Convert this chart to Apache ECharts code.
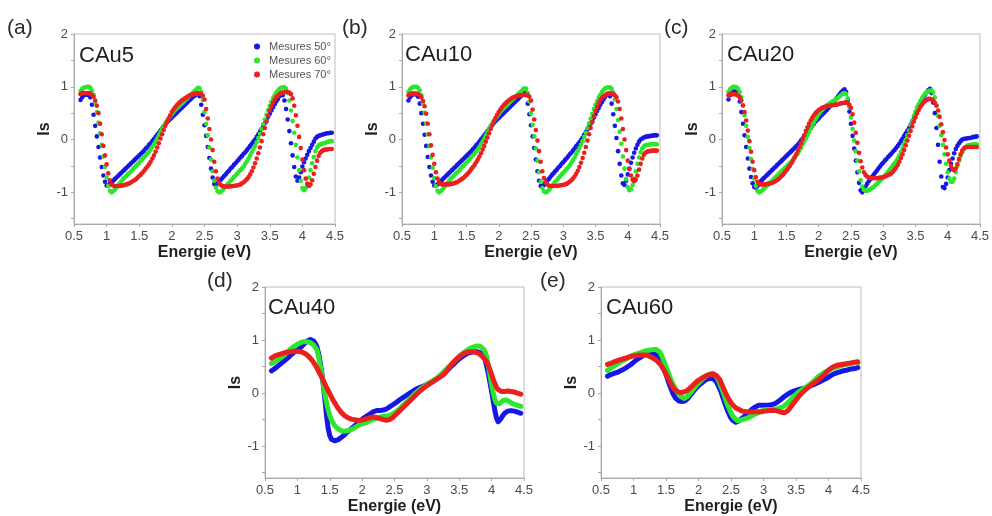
<!DOCTYPE html>
<html><head><meta charset="utf-8">
<script src="https://cdn.jsdelivr.net/npm/echarts@6/dist/echarts.min.js"></script>
<style>html,body{margin:0;padding:0;background:#fff}#c{width:992px;height:516px}</style>
</head><body><div id="c"></div>
<script>
// Energy grid (eV), shared by all panels
const E = [0.6,0.625,0.65,0.675,0.7,0.725,0.75,0.775,0.8,0.825,0.85,0.875,0.9,0.925,0.95,0.975,1,1.025,1.05,1.075,
1.1,1.125,1.15,1.175,1.2,1.225,1.25,1.275,1.3,1.325,1.35,1.375,1.4,1.425,1.45,1.475,1.5,1.525,1.55,1.575,
1.6,1.625,1.65,1.675,1.7,1.725,1.75,1.775,1.8,1.825,1.85,1.875,1.9,1.925,1.95,1.975,2,2.025,2.05,2.075,
2.1,2.125,2.15,2.175,2.2,2.225,2.25,2.275,2.3,2.325,2.35,2.375,2.4,2.425,2.45,2.475,2.5,2.525,2.55,2.575,
2.6,2.625,2.65,2.675,2.7,2.725,2.75,2.775,2.8,2.825,2.85,2.875,2.9,2.925,2.95,2.975,3,3.025,3.05,3.075,
3.1,3.125,3.15,3.175,3.2,3.225,3.25,3.275,3.3,3.325,3.35,3.375,3.4,3.425,3.45,3.475,3.5,3.525,3.55,3.575,
3.6,3.625,3.65,3.675,3.7,3.725,3.75,3.775,3.8,3.825,3.85,3.875,3.9,3.925,3.95,3.975,4,4.025,4.05,4.075,
4.1,4.125,4.15,4.175,4.2,4.225,4.25,4.275,4.3,4.325,4.35,4.375,4.4,4.425,4.45];

const xTicks = [0.5,1,1.5,2,2.5,3,3.5,4,4.5];
const yLabels = [-1,0,1,2];
const yTicks = [-1.5,-1,-0.5,0,0.5,1,1.5,2];
const seriesNames = ['Mesures 50°','Mesures 60°','Mesures 70°'];
const panelLetters = ['(a)','(b)','(c)','(d)','(e)'];
const sampleNames = ['CAu5','CAu10','CAu20','CAu40','CAu60'];

// (a) CAu5
const a50 = [0.75,0.80,0.84,0.85,0.85,0.84,0.80,0.66,0.47,0.26,0.06,-0.14,-0.34,-0.52,-0.68,-0.80,-0.87,-0.87,-0.84,-0.81,
-0.78,-0.75,-0.72,-0.69,-0.66,-0.63,-0.60,-0.57,-0.54,-0.51,-0.48,-0.45,-0.42,-0.39,-0.36,-0.33,-0.30,-0.27,-0.24,-0.21,
-0.17,-0.14,-0.10,-0.07,-0.03,0.01,0.05,0.09,0.13,0.17,0.21,0.25,0.29,0.33,0.36,0.39,0.42,0.45,0.48,0.51,
0.54,0.57,0.60,0.63,0.66,0.69,0.72,0.75,0.78,0.81,0.83,0.86,0.88,0.82,0.66,0.47,0.27,0.07,-0.14,-0.35,
-0.55,-0.72,-0.84,-0.87,-0.83,-0.80,-0.76,-0.73,-0.69,-0.66,-0.62,-0.59,-0.55,-0.52,-0.48,-0.45,-0.41,-0.38,-0.34,-0.31,
-0.27,-0.24,-0.20,-0.16,-0.12,-0.08,-0.04,0.00,0.05,0.10,0.15,0.20,0.25,0.31,0.37,0.43,0.49,0.55,0.61,0.67,
0.72,0.77,0.82,0.85,0.84,0.74,0.58,0.38,0.16,-0.07,-0.30,-0.52,-0.70,-0.78,-0.72,-0.62,-0.51,-0.43,-0.36,-0.29,
-0.22,-0.16,-0.10,-0.04,0.02,0.05,0.07,0.08,0.09,0.10,0.11,0.12,0.12,0.13,0.13];
const a60 = [0.92,0.96,0.98,0.99,1.00,1.00,0.98,0.93,0.85,0.70,0.52,0.32,0.12,-0.10,-0.32,-0.52,-0.72,-0.88,-0.97,-1.00,
-0.98,-0.95,-0.91,-0.87,-0.83,-0.79,-0.75,-0.72,-0.69,-0.66,-0.63,-0.60,-0.57,-0.53,-0.50,-0.47,-0.44,-0.40,-0.37,-0.33,
-0.30,-0.27,-0.23,-0.19,-0.14,-0.09,-0.04,0.02,0.08,0.14,0.20,0.26,0.31,0.36,0.40,0.44,0.48,0.52,0.56,0.59,
0.62,0.65,0.68,0.71,0.74,0.77,0.80,0.83,0.86,0.89,0.92,0.95,0.98,0.97,0.90,0.75,0.52,0.30,0.08,-0.15,
-0.38,-0.60,-0.78,-0.91,-0.98,-1.00,-0.99,-0.96,-0.92,-0.89,-0.85,-0.82,-0.78,-0.75,-0.71,-0.68,-0.65,-0.61,-0.58,-0.55,
-0.51,-0.46,-0.41,-0.36,-0.30,-0.24,-0.18,-0.12,-0.05,0.03,0.11,0.20,0.29,0.38,0.47,0.56,0.64,0.71,0.78,0.84,
0.89,0.93,0.96,0.98,0.99,0.99,0.96,0.88,0.74,0.55,0.35,0.13,-0.10,-0.34,-0.58,-0.78,-0.92,-0.96,-0.92,-0.84,
-0.72,-0.58,-0.45,-0.33,-0.22,-0.15,-0.11,-0.09,-0.08,-0.07,-0.06,-0.05,-0.04,-0.03,-0.03];
const a70 = [0.86,0.88,0.88,0.88,0.88,0.88,0.87,0.85,0.81,0.74,0.64,0.50,0.30,0.10,-0.12,-0.30,-0.47,-0.64,-0.77,-0.85,
-0.87,-0.88,-0.88,-0.88,-0.88,-0.87,-0.87,-0.86,-0.85,-0.84,-0.83,-0.81,-0.79,-0.77,-0.75,-0.72,-0.69,-0.66,-0.63,-0.59,
-0.55,-0.51,-0.47,-0.42,-0.36,-0.30,-0.23,-0.15,-0.07,0.02,0.10,0.18,0.26,0.33,0.40,0.46,0.52,0.57,0.61,0.65,
0.68,0.71,0.74,0.76,0.78,0.80,0.82,0.84,0.85,0.86,0.87,0.87,0.87,0.87,0.86,0.83,0.76,0.58,0.40,0.20,
0.00,-0.20,-0.42,-0.60,-0.74,-0.82,-0.86,-0.88,-0.89,-0.89,-0.89,-0.89,-0.89,-0.88,-0.88,-0.87,-0.87,-0.86,-0.85,-0.83,
-0.81,-0.78,-0.75,-0.71,-0.66,-0.60,-0.53,-0.45,-0.36,-0.26,-0.15,-0.03,0.10,0.22,0.34,0.45,0.55,0.63,0.70,0.76,
0.80,0.83,0.86,0.88,0.89,0.90,0.90,0.90,0.89,0.86,0.78,0.64,0.46,0.26,0.05,-0.16,-0.38,-0.58,-0.74,-0.84,
-0.88,-0.85,-0.77,-0.65,-0.52,-0.40,-0.31,-0.25,-0.22,-0.20,-0.19,-0.19,-0.18,-0.18,-0.18];

// (b) CAu10
const b50 = [0.74,0.80,0.84,0.86,0.86,0.85,0.81,0.68,0.50,0.30,0.09,-0.12,-0.33,-0.52,-0.68,-0.80,-0.87,-0.88,-0.85,-0.82,
-0.79,-0.76,-0.73,-0.70,-0.67,-0.64,-0.61,-0.58,-0.55,-0.52,-0.49,-0.46,-0.43,-0.40,-0.37,-0.34,-0.31,-0.28,-0.25,-0.22,
-0.18,-0.15,-0.11,-0.08,-0.04,0.00,0.04,0.08,0.12,0.16,0.20,0.24,0.28,0.32,0.35,0.38,0.41,0.44,0.47,0.50,
0.53,0.56,0.59,0.62,0.65,0.68,0.71,0.74,0.77,0.80,0.83,0.86,0.89,0.84,0.68,0.48,0.27,0.06,-0.16,-0.38,
-0.60,-0.78,-0.88,-0.90,-0.86,-0.82,-0.78,-0.75,-0.71,-0.67,-0.64,-0.60,-0.57,-0.53,-0.50,-0.46,-0.43,-0.39,-0.36,-0.32,
-0.28,-0.25,-0.21,-0.17,-0.13,-0.09,-0.05,-0.01,0.04,0.09,0.14,0.19,0.24,0.30,0.36,0.42,0.48,0.54,0.60,0.66,
0.71,0.76,0.81,0.85,0.87,0.82,0.68,0.48,0.26,0.03,-0.22,-0.46,-0.68,-0.83,-0.86,-0.78,-0.66,-0.55,-0.44,-0.34,
-0.25,-0.17,-0.10,-0.04,0.00,0.02,0.04,0.05,0.06,0.06,0.07,0.07,0.08,0.08,0.08];
const b60 = [0.90,0.95,0.98,1.00,1.00,1.00,0.98,0.93,0.84,0.69,0.51,0.31,0.10,-0.12,-0.34,-0.54,-0.73,-0.88,-0.97,-1.00,
-0.98,-0.95,-0.91,-0.87,-0.83,-0.79,-0.75,-0.72,-0.69,-0.66,-0.63,-0.60,-0.57,-0.53,-0.50,-0.47,-0.44,-0.40,-0.37,-0.33,
-0.30,-0.27,-0.23,-0.19,-0.14,-0.09,-0.04,0.02,0.08,0.14,0.20,0.26,0.31,0.36,0.40,0.44,0.48,0.52,0.56,0.59,
0.62,0.65,0.68,0.71,0.74,0.77,0.80,0.83,0.86,0.89,0.92,0.95,0.97,0.96,0.88,0.72,0.50,0.28,0.06,-0.17,
-0.40,-0.62,-0.80,-0.92,-0.98,-1.00,-0.99,-0.96,-0.92,-0.88,-0.84,-0.80,-0.77,-0.73,-0.70,-0.66,-0.63,-0.60,-0.56,-0.53,
-0.49,-0.44,-0.39,-0.34,-0.28,-0.22,-0.16,-0.10,-0.03,0.05,0.13,0.22,0.31,0.40,0.49,0.58,0.66,0.73,0.80,0.85,
0.90,0.94,0.97,0.98,0.99,0.99,0.96,0.89,0.76,0.58,0.37,0.15,-0.08,-0.32,-0.55,-0.75,-0.90,-0.96,-0.94,-0.86,
-0.74,-0.60,-0.46,-0.34,-0.24,-0.17,-0.13,-0.11,-0.10,-0.10,-0.09,-0.09,-0.09,-0.09,-0.09];
const b70 = [0.84,0.86,0.87,0.87,0.87,0.87,0.86,0.84,0.80,0.73,0.63,0.49,0.30,0.10,-0.11,-0.29,-0.46,-0.62,-0.74,-0.81,
-0.84,-0.85,-0.85,-0.85,-0.85,-0.85,-0.84,-0.84,-0.83,-0.82,-0.81,-0.79,-0.77,-0.75,-0.73,-0.70,-0.67,-0.64,-0.60,-0.56,
-0.52,-0.48,-0.43,-0.38,-0.32,-0.26,-0.19,-0.12,-0.04,0.04,0.12,0.20,0.27,0.34,0.41,0.47,0.52,0.57,0.61,0.65,
0.68,0.71,0.74,0.76,0.78,0.80,0.81,0.82,0.83,0.84,0.84,0.85,0.85,0.85,0.84,0.81,0.74,0.57,0.38,0.18,
-0.02,-0.22,-0.42,-0.60,-0.73,-0.81,-0.85,-0.87,-0.88,-0.88,-0.88,-0.88,-0.88,-0.87,-0.87,-0.86,-0.86,-0.85,-0.84,-0.82,
-0.80,-0.77,-0.74,-0.70,-0.65,-0.59,-0.52,-0.44,-0.35,-0.25,-0.14,-0.02,0.10,0.22,0.33,0.44,0.54,0.62,0.69,0.75,
0.79,0.82,0.84,0.86,0.87,0.87,0.87,0.86,0.84,0.80,0.72,0.58,0.40,0.20,0.00,-0.20,-0.40,-0.56,-0.68,-0.76,
-0.79,-0.76,-0.68,-0.57,-0.46,-0.36,-0.29,-0.25,-0.23,-0.22,-0.22,-0.21,-0.21,-0.21,-0.21];

// (c) CAu20
const c50 = [0.76,0.84,0.89,0.91,0.91,0.90,0.85,0.72,0.52,0.30,0.08,-0.14,-0.36,-0.55,-0.71,-0.83,-0.90,-0.91,-0.88,-0.84,
-0.79,-0.76,-0.73,-0.70,-0.67,-0.64,-0.61,-0.58,-0.55,-0.52,-0.49,-0.46,-0.43,-0.40,-0.37,-0.34,-0.31,-0.28,-0.25,-0.22,
-0.19,-0.16,-0.13,-0.10,-0.06,-0.02,0.02,0.06,0.10,0.14,0.18,0.22,0.26,0.30,0.34,0.37,0.40,0.44,0.47,0.50,
0.53,0.56,0.60,0.63,0.67,0.70,0.74,0.78,0.82,0.86,0.90,0.93,0.95,0.90,0.74,0.53,0.30,0.07,-0.17,-0.40,
-0.62,-0.82,-0.96,-1.00,-0.95,-0.89,-0.84,-0.79,-0.75,-0.71,-0.67,-0.63,-0.59,-0.55,-0.51,-0.47,-0.44,-0.40,-0.37,-0.33,
-0.30,-0.27,-0.23,-0.20,-0.16,-0.12,-0.08,-0.03,0.02,0.07,0.12,0.17,0.22,0.28,0.34,0.40,0.47,0.53,0.60,0.67,
0.73,0.79,0.85,0.90,0.94,0.96,0.88,0.70,0.50,0.22,-0.10,-0.42,-0.70,-0.90,-0.92,-0.84,-0.72,-0.58,-0.46,-0.36,
-0.26,-0.18,-0.12,-0.07,-0.03,0.00,0.01,0.02,0.02,0.03,0.03,0.04,0.05,0.05,0.06];
const c60 = [0.90,0.95,0.98,1.00,1.00,0.99,0.96,0.90,0.80,0.64,0.46,0.26,0.05,-0.16,-0.37,-0.56,-0.74,-0.88,-0.97,-1.00,
-0.99,-0.96,-0.93,-0.90,-0.87,-0.84,-0.81,-0.78,-0.75,-0.72,-0.69,-0.66,-0.63,-0.60,-0.57,-0.54,-0.51,-0.48,-0.45,-0.42,
-0.38,-0.34,-0.30,-0.26,-0.21,-0.16,-0.10,-0.04,0.02,0.08,0.14,0.20,0.26,0.32,0.38,0.43,0.48,0.52,0.56,0.59,
0.62,0.65,0.67,0.69,0.71,0.73,0.75,0.77,0.79,0.82,0.85,0.87,0.88,0.86,0.78,0.62,0.42,0.20,-0.02,-0.22,
-0.40,-0.60,-0.77,-0.89,-0.95,-0.97,-0.97,-0.96,-0.94,-0.92,-0.90,-0.87,-0.84,-0.81,-0.78,-0.75,-0.72,-0.68,-0.65,-0.61,
-0.57,-0.53,-0.49,-0.45,-0.41,-0.36,-0.30,-0.23,-0.16,-0.09,-0.01,0.08,0.17,0.27,0.36,0.45,0.53,0.61,0.67,0.73,
0.78,0.83,0.87,0.90,0.92,0.93,0.93,0.89,0.80,0.65,0.45,0.26,0.08,-0.10,-0.28,-0.46,-0.62,-0.74,-0.80,-0.80,
-0.74,-0.62,-0.50,-0.40,-0.31,-0.24,-0.18,-0.14,-0.12,-0.11,-0.10,-0.10,-0.09,-0.09,-0.09];
const c70 = [0.84,0.86,0.86,0.86,0.86,0.85,0.83,0.80,0.74,0.65,0.52,0.36,0.17,-0.03,-0.23,-0.42,-0.58,-0.71,-0.80,-0.84,
-0.85,-0.85,-0.85,-0.85,-0.84,-0.84,-0.83,-0.82,-0.81,-0.79,-0.77,-0.75,-0.72,-0.69,-0.66,-0.62,-0.58,-0.54,-0.50,-0.45,
-0.40,-0.34,-0.28,-0.21,-0.14,-0.07,0.00,0.08,0.16,0.23,0.30,0.36,0.41,0.46,0.50,0.53,0.56,0.58,0.60,0.61,
0.62,0.63,0.64,0.64,0.65,0.65,0.66,0.66,0.67,0.68,0.69,0.69,0.70,0.70,0.69,0.66,0.60,0.48,0.32,0.13,
-0.06,-0.25,-0.41,-0.53,-0.62,-0.67,-0.70,-0.72,-0.73,-0.73,-0.73,-0.73,-0.73,-0.73,-0.72,-0.72,-0.71,-0.70,-0.69,-0.67,
-0.66,-0.64,-0.61,-0.57,-0.53,-0.48,-0.42,-0.35,-0.28,-0.20,-0.11,-0.02,0.07,0.16,0.25,0.34,0.42,0.50,0.56,0.62,
0.66,0.70,0.73,0.75,0.77,0.77,0.76,0.74,0.70,0.64,0.55,0.43,0.29,0.14,-0.01,-0.15,-0.28,-0.40,-0.50,-0.56,
-0.58,-0.55,-0.47,-0.37,-0.28,-0.21,-0.17,-0.15,-0.14,-0.14,-0.14,-0.14,-0.14,-0.14,-0.14];

// (d) CAu40
const d50 = [0.42,0.44,0.46,0.49,0.51,0.53,0.56,0.58,0.61,0.63,0.66,0.69,0.72,0.74,0.77,0.79,0.81,0.84,0.86,0.89,
0.92,0.95,0.98,1.00,1.01,1.00,0.98,0.94,0.88,0.76,0.60,0.40,0.16,-0.12,-0.42,-0.66,-0.80,-0.87,-0.90,-0.90,
-0.89,-0.88,-0.86,-0.84,-0.82,-0.79,-0.76,-0.73,-0.71,-0.68,-0.65,-0.63,-0.60,-0.57,-0.55,-0.52,-0.50,-0.47,-0.45,-0.43,
-0.41,-0.39,-0.37,-0.35,-0.34,-0.33,-0.33,-0.33,-0.33,-0.32,-0.31,-0.30,-0.28,-0.26,-0.24,-0.22,-0.20,-0.18,-0.15,-0.13,
-0.11,-0.09,-0.07,-0.05,-0.03,-0.01,0.01,0.03,0.05,0.07,0.08,0.10,0.11,0.12,0.14,0.15,0.16,0.18,0.19,0.21,
0.23,0.25,0.27,0.29,0.31,0.33,0.36,0.38,0.41,0.44,0.47,0.50,0.53,0.56,0.59,0.62,0.65,0.67,0.69,0.71,
0.73,0.75,0.76,0.77,0.78,0.78,0.78,0.78,0.77,0.76,0.74,0.70,0.63,0.50,0.36,0.20,0.03,-0.15,-0.33,-0.47,
-0.54,-0.52,-0.47,-0.42,-0.38,-0.35,-0.34,-0.33,-0.33,-0.33,-0.34,-0.35,-0.36,-0.37,-0.38];
const d60 = [0.56,0.57,0.59,0.61,0.63,0.65,0.67,0.69,0.72,0.75,0.78,0.81,0.84,0.86,0.88,0.90,0.92,0.94,0.95,0.96,
0.97,0.97,0.97,0.96,0.95,0.93,0.91,0.88,0.82,0.70,0.54,0.36,0.17,-0.02,-0.18,-0.31,-0.42,-0.50,-0.56,-0.61,
-0.64,-0.67,-0.69,-0.71,-0.72,-0.72,-0.72,-0.71,-0.70,-0.69,-0.67,-0.66,-0.64,-0.62,-0.61,-0.59,-0.58,-0.57,-0.56,-0.55,
-0.54,-0.52,-0.51,-0.49,-0.48,-0.47,-0.46,-0.45,-0.44,-0.44,-0.43,-0.43,-0.43,-0.42,-0.41,-0.39,-0.37,-0.35,-0.32,-0.30,
-0.27,-0.24,-0.21,-0.18,-0.15,-0.12,-0.09,-0.06,-0.03,0.00,0.03,0.05,0.08,0.10,0.12,0.14,0.16,0.18,0.20,0.22,
0.24,0.26,0.28,0.30,0.33,0.36,0.39,0.42,0.45,0.48,0.51,0.54,0.57,0.60,0.63,0.66,0.69,0.72,0.75,0.77,
0.79,0.81,0.83,0.85,0.86,0.87,0.88,0.89,0.89,0.88,0.86,0.83,0.78,0.68,0.52,0.34,0.16,0.00,-0.12,-0.19,
-0.21,-0.20,-0.17,-0.14,-0.13,-0.13,-0.14,-0.16,-0.18,-0.20,-0.21,-0.22,-0.23,-0.24,-0.25];
const d70 = [0.66,0.68,0.70,0.71,0.72,0.73,0.74,0.75,0.76,0.77,0.77,0.78,0.78,0.78,0.79,0.79,0.79,0.79,0.78,0.77,
0.76,0.74,0.72,0.69,0.66,0.62,0.58,0.53,0.48,0.42,0.36,0.30,0.24,0.17,0.11,0.05,-0.01,-0.07,-0.13,-0.18,
-0.23,-0.28,-0.32,-0.36,-0.39,-0.42,-0.44,-0.46,-0.48,-0.49,-0.50,-0.50,-0.51,-0.51,-0.51,-0.51,-0.51,-0.50,-0.49,-0.48,
-0.47,-0.46,-0.45,-0.45,-0.45,-0.46,-0.47,-0.48,-0.49,-0.50,-0.51,-0.51,-0.51,-0.50,-0.48,-0.46,-0.43,-0.40,-0.37,-0.34,
-0.31,-0.28,-0.25,-0.22,-0.19,-0.16,-0.13,-0.10,-0.07,-0.04,-0.01,0.02,0.05,0.07,0.10,0.12,0.14,0.16,0.18,0.20,
0.22,0.24,0.26,0.28,0.30,0.32,0.34,0.37,0.41,0.45,0.49,0.53,0.57,0.60,0.63,0.66,0.69,0.71,0.73,0.75,
0.76,0.77,0.78,0.78,0.78,0.78,0.77,0.76,0.75,0.73,0.70,0.67,0.63,0.58,0.52,0.44,0.35,0.26,0.18,0.11,
0.07,0.04,0.03,0.03,0.03,0.04,0.04,0.04,0.03,0.03,0.02,0.01,0.00,-0.01,-0.02];

// (e) CAu60
const e50 = [0.32,0.33,0.35,0.36,0.37,0.38,0.39,0.40,0.42,0.43,0.45,0.47,0.49,0.51,0.53,0.55,0.58,0.60,0.63,0.65,
0.67,0.69,0.71,0.73,0.74,0.75,0.75,0.75,0.75,0.74,0.72,0.69,0.64,0.58,0.51,0.43,0.35,0.26,0.17,0.09,
0.01,-0.05,-0.10,-0.13,-0.15,-0.16,-0.16,-0.15,-0.14,-0.11,-0.08,-0.04,0.00,0.04,0.08,0.11,0.14,0.17,0.19,0.22,
0.24,0.26,0.27,0.28,0.28,0.27,0.25,0.21,0.15,0.08,0.01,-0.08,-0.17,-0.26,-0.34,-0.41,-0.47,-0.51,-0.54,-0.55,
-0.54,-0.52,-0.50,-0.47,-0.45,-0.42,-0.39,-0.36,-0.33,-0.30,-0.28,-0.26,-0.24,-0.23,-0.23,-0.23,-0.23,-0.23,-0.23,-0.23,
-0.23,-0.22,-0.21,-0.20,-0.18,-0.16,-0.14,-0.11,-0.08,-0.06,-0.04,-0.02,0.00,0.02,0.03,0.04,0.05,0.06,0.07,0.08,
0.08,0.09,0.10,0.11,0.12,0.14,0.15,0.16,0.18,0.19,0.21,0.22,0.24,0.25,0.27,0.28,0.30,0.32,0.34,0.36,
0.37,0.38,0.39,0.40,0.41,0.42,0.43,0.43,0.44,0.45,0.45,0.46,0.47,0.47,0.48];
const e60 = [0.43,0.45,0.47,0.49,0.51,0.53,0.55,0.57,0.59,0.61,0.62,0.64,0.65,0.67,0.69,0.70,0.72,0.73,0.74,0.75,
0.76,0.77,0.78,0.79,0.80,0.81,0.81,0.82,0.82,0.82,0.82,0.81,0.78,0.73,0.66,0.58,0.50,0.42,0.34,0.26,
0.19,0.13,0.07,0.02,-0.02,-0.06,-0.09,-0.10,-0.09,-0.07,-0.04,0.00,0.04,0.08,0.12,0.16,0.19,0.22,0.25,0.28,
0.31,0.33,0.35,0.36,0.37,0.37,0.35,0.31,0.26,0.19,0.11,0.03,-0.06,-0.15,-0.23,-0.30,-0.37,-0.43,-0.47,-0.50,
-0.52,-0.52,-0.51,-0.50,-0.49,-0.48,-0.47,-0.45,-0.44,-0.42,-0.41,-0.39,-0.38,-0.36,-0.35,-0.33,-0.32,-0.32,-0.31,-0.31,
-0.31,-0.31,-0.31,-0.30,-0.30,-0.29,-0.28,-0.27,-0.26,-0.24,-0.21,-0.18,-0.15,-0.12,-0.08,-0.05,-0.02,0.01,0.03,0.05,
0.07,0.09,0.11,0.13,0.15,0.17,0.20,0.23,0.26,0.29,0.32,0.34,0.36,0.38,0.40,0.42,0.43,0.45,0.46,0.47,
0.48,0.49,0.50,0.51,0.52,0.53,0.54,0.54,0.55,0.55,0.56,0.56,0.57,0.57,0.57];
const e70 = [0.54,0.55,0.56,0.58,0.59,0.60,0.61,0.62,0.63,0.64,0.65,0.66,0.67,0.68,0.69,0.70,0.70,0.71,0.71,0.72,
0.72,0.72,0.72,0.72,0.72,0.71,0.69,0.68,0.66,0.64,0.62,0.59,0.56,0.52,0.47,0.42,0.36,0.30,0.24,0.18,
0.12,0.08,0.05,0.03,0.02,0.01,0.01,0.02,0.03,0.05,0.07,0.10,0.13,0.16,0.19,0.22,0.24,0.26,0.28,0.30,
0.31,0.33,0.34,0.35,0.36,0.36,0.35,0.33,0.31,0.26,0.19,0.12,0.05,-0.02,-0.08,-0.13,-0.18,-0.22,-0.25,-0.28,
-0.29,-0.31,-0.33,-0.34,-0.35,-0.35,-0.35,-0.35,-0.35,-0.35,-0.35,-0.35,-0.35,-0.35,-0.35,-0.35,-0.34,-0.34,-0.33,-0.33,
-0.33,-0.33,-0.33,-0.33,-0.33,-0.34,-0.35,-0.36,-0.37,-0.37,-0.36,-0.33,-0.29,-0.25,-0.21,-0.17,-0.13,-0.09,-0.05,-0.02,
0.01,0.04,0.07,0.10,0.12,0.15,0.17,0.19,0.21,0.23,0.26,0.28,0.31,0.34,0.37,0.40,0.43,0.46,0.48,0.50,
0.51,0.52,0.53,0.54,0.54,0.55,0.55,0.56,0.56,0.57,0.57,0.58,0.58,0.59,0.59];

const panelData = [[a50,a60,a70],[b50,b60,b70],[c50,c60,c70],[d50,d60,d70],[e50,e60,e70]];
const colors = ['#1616e6','#2be62b','#ec1f1f'];
const FONT = "'Liberation Sans', Arial, sans-serif";

const grids = [
  {left:74, top:34, width:261, height:190},
  {left:402, top:34, width:258, height:190},
  {left:722, top:34, width:259, height:190},
  {left:265, top:287, width:259, height:191},
  {left:601, top:287, width:260, height:191}
];
const letterPos = [[7,18],[342,18],[664,18],[207,271],[540,271]];
const namePos = [[79,45],[405,44],[727,44],[268,297],[606,297]];

const axisGray = '#a9a9a9';
const option = {
  animation:false,
  backgroundColor:'#fff',
  textStyle:{fontFamily:FONT},
  grid: grids.map(g => Object.assign({show:true, borderColor:'#bdbdbd', borderWidth:1, containLabel:false}, g)),
  xAxis: grids.map((g,i) => ({
    gridIndex:i, type:'value', min:0.5, max:4.5, interval:0.5,
    name:'Energie (eV)', nameLocation:'middle', nameGap:21,
    nameTextStyle:{fontSize:16, fontWeight:'bold', color:'#1e1e1e', fontFamily:FONT},
    axisLine:{show:true, onZero:false, lineStyle:{color:axisGray}},
    axisTick:{show:true, length:3, lineStyle:{color:axisGray}, customValues:xTicks},
    axisLabel:{fontSize:13, color:'#4a4a4a', margin:6, customValues:xTicks, fontFamily:FONT},
    splitLine:{show:false}
  })),
  yAxis: grids.map((g,i) => ({
    gridIndex:i, type:'value', min:-1.6, max:2,
    name:'Is', nameLocation:'middle', nameGap:20,
    nameTextStyle:{fontSize:16, fontWeight:'bold', color:'#1e1e1e', fontFamily:FONT},
    axisLine:{show:true, onZero:false, lineStyle:{color:axisGray}},
    axisTick:{show:true, length:3, lineStyle:{color:axisGray}, customValues:yTicks},
    axisLabel:{fontSize:13, color:'#4a4a4a', margin:6, customValues:yLabels, fontFamily:FONT},
    splitLine:{show:false}
  })),
  legend:{
    data:seriesNames, orient:'vertical', left:249, top:36,
    itemWidth:6, itemHeight:6, itemGap:3, icon:'circle',
    textStyle:{fontSize:11, color:'#555', fontFamily:FONT, padding:[0,0,0,4]},
    selectedMode:false
  },
  graphic: [],
  series: []
};

panelData.forEach((set, p) => {
  set.forEach((vals, k) => {
    const pts = E.map((x, i) => [x, vals[i]]);
    if (p < 3) {
      option.series.push({
        type:'scatter', name:seriesNames[k], xAxisIndex:p, yAxisIndex:p,
        data:pts, symbol:'circle', symbolSize:4.6, silent:true,
        itemStyle:{color:colors[k], opacity:1}
      });
    } else {
      option.series.push({
        type:'line', name:seriesNames[k], xAxisIndex:p, yAxisIndex:p,
        data:pts, showSymbol:false, symbol:'circle', silent:true,
        itemStyle:{color:colors[k]},
        lineStyle:{color:colors[k], width:5, cap:'round', join:'round'}
      });
    }
  });
  option.graphic.push({type:'text', left:letterPos[p][0], top:letterPos[p][1],
    style:{text:panelLetters[p], fontSize:21, fill:'#2a2a2a', fontFamily:FONT}});
  option.graphic.push({type:'text', left:namePos[p][0], top:namePos[p][1],
    style:{text:sampleNames[p], fontSize:22, fill:'#1e1e1e', fontFamily:FONT}});
});

const chart = echarts.init(document.getElementById('c'), null, {renderer:'canvas'});
chart.setOption(option);
</script>
</body></html>
